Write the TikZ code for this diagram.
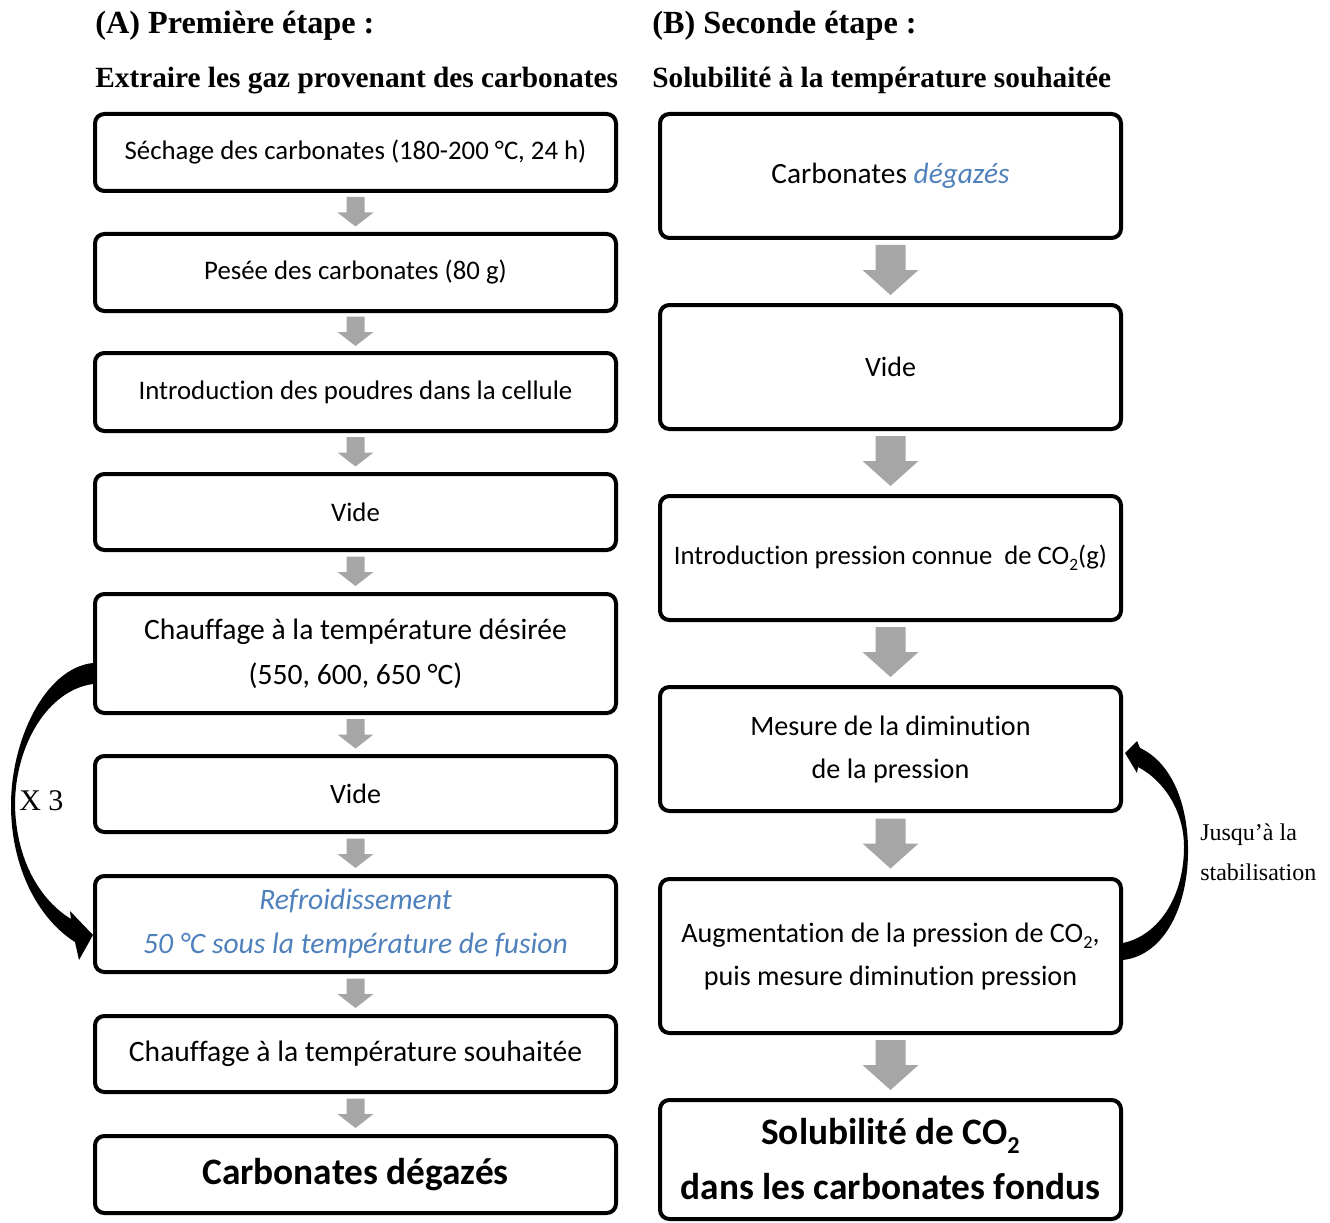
\documentclass[tikz,border=0pt]{standalone}
\usepackage{fontspec}
\usepackage{graphicx}
\setmainfont{Carlito}[Ligatures=NoCommon]
\newfontfamily\tnr{Liberation Serif}
\usetikzlibrary{calc}
\definecolor{accblue}{RGB}{79,129,189}
\definecolor{agray}{RGB}{166,166,166}
\newcommand{\fsz}[2]{\fontsize{#1}{#2}\selectfont}
\newcommand{\sub}[1]{\raisebox{-0.22em}{\scalebox{0.65}{#1}}}
\newcommand{\leftarr}[2]{%
  \coordinate (m#1) at ($(#1.south)!0.5!(#2.north)$);
  \fill[agray,shift={(m#1)}] (-9,-15.5) -- (9,-15.5) -- (9,0) -- (18,0) -- (0,14) -- (-18,0) -- (-9,0) -- cycle;}
\newcommand{\rightarr}[2]{%
  \coordinate (m#1) at ($(#1.south)!0.5!(#2.north)$);
  \fill[agray,shift={(m#1)}] (-15,-26.5) -- (15,-26.5) -- (15,-1.5) -- (28,-1.5) -- (0,23.5) -- (-28,-1.5) -- (-15,-1.5) -- cycle;}
\begin{document}
\begin{tikzpicture}[x=0.75pt,y=-0.75pt,
  box/.style={draw, line width=3pt, rounded corners=7pt, align=center, inner sep=0pt, fill=white},
  lbox/.style={box, minimum width=390.75pt, minimum height=57.75pt},
  rbox/.style={box, minimum width=345.75pt, minimum height=93pt},
  ttl/.style={anchor=base west, inner sep=0pt, font=\tnr\bfseries\fsz{24.2}{28}},
  sttl/.style={anchor=base west, inner sep=0pt, font=\tnr\bfseries\fsz{22}{26}},
  note/.style={anchor=base west, inner sep=0pt, font=\tnr\fsz{18}{20}},
  txa/.style={font=\fsz{20.1}{33.75}},
  txb/.style={font=\fsz{22.2}{33.75}},
  txr/.style={font=\fsz{21.1}{32.25}},
  txbold/.style={font=\bfseries\fsz{28}{41.25}}
]
\useasboundingbox (0,0) rectangle (1330,1223);

% titles
\node[ttl] (tA) at (95,34) {(A) Première étape :};
\node[sttl] (sA) at (95,88) {Extraire les gaz provenant des carbonates};
\node[ttl] (tB) at (652,34) {(B) Seconde étape :};
\node[sttl] (sB) at (652,88) {Solubilité à la température souhaitée};

% left column
\node[lbox, txa] (L1) at (355.5,152.5) {Séchage des carbonates (180-200 °C, 24 h)};
\node[lbox, txa] (L2) at (355.5,272.5) {Pesée des carbonates (80 g)};
\node[lbox, txa, minimum height=58.5pt] (L3) at (355.5,392) {Introduction des poudres dans la cellule};
\node[lbox, txa, minimum height=57pt] (L4) at (355.5,512) {Vide};
\node[lbox, txb, minimum height=89.25pt] (L5) at (355.5,653.5) {Chauffage à la température désirée\\(550, 600, 650 °C)};
\node[lbox, minimum height=57pt, font=\fsz{21}{30}] (L6) at (355.5,794) {Vide};
\node[lbox, minimum height=72pt, text=accblue, font=\itshape\fsz{22.2}{33}] (L7) at (355.5,924) {Refroidissement\\50 °C sous la température de fusion};
\node[lbox, txb, minimum height=57pt] (L8) at (355.5,1054) {Chauffage à la température souhaitée};
\node[lbox, txbold] (L9) at (355.5,1174.5) {Carbonates dégazés};

\leftarr{L1}{L2}
\leftarr{L2}{L3}
\leftarr{L3}{L4}
\leftarr{L4}{L5}
\leftarr{L5}{L6}
\leftarr{L6}{L7}
\leftarr{L7}{L8}
\leftarr{L8}{L9}

% right column
\node[rbox, font=\fsz{22}{30}] (R1) at (890.5,176) {Carbonates \textcolor{accblue}{\itshape dégazés}};
\node[rbox, font=\fsz{21}{30}] (R2) at (890.5,367) {Vide};
\node[rbox, font=\fsz{20}{30}] (R3) at (890.5,558) {Introduction pression connue\ \ de CO\sub{2}(g)};
\node[rbox, txr] (R4) at (890.5,749) {Mesure de la diminution\\de la pression};
\node[rbox, txr, minimum height=115.5pt] (R5) at (890.5,956) {Augmentation de la pression de CO\sub{2},\\puis mesure diminution pression};
\node[rbox, txbold, minimum height=89.25pt] (R6) at (890.5,1159.5) {Solubilité de CO\sub{2}\\dans les carbonates fondus};

\rightarr{R1}{R2}
\rightarr{R2}{R3}
\rightarr{R3}{R4}
\rightarr{R4}{R5}
\rightarr{R5}{R6}

% loop arrows
\fill (93,663) .. controls (45,668) and (11,740) .. (11,805)
  .. controls (11,870) and (40,920) .. (75,942) -- (79,960) -- (93,935) -- (70,911) -- (71,919)
  .. controls (40,900) and (16,860) .. (15,805)
  .. controls (15,745) and (48,690) .. (93,684) -- cycle;
\node[note, font=\tnr\fsz{22.5}{24}] (x3) at (19,810) {X 3};

\fill (1123,960) .. controls (1165,955) and (1189,905) .. (1188,847)
  .. controls (1187,800) and (1170,762) .. (1140,748) -- (1137,741) -- (1125,753) -- (1137,773) -- (1138,767)
  .. controls (1163,780) and (1184,810) .. (1184,847)
  .. controls (1184,895) and (1160,935) .. (1123,943) -- cycle;
\node[note] (j1) at (1200,840) {Jusqu’à la};
\node[note] (j2) at (1200,880) {stabilisation};
\end{tikzpicture}
\end{document}
